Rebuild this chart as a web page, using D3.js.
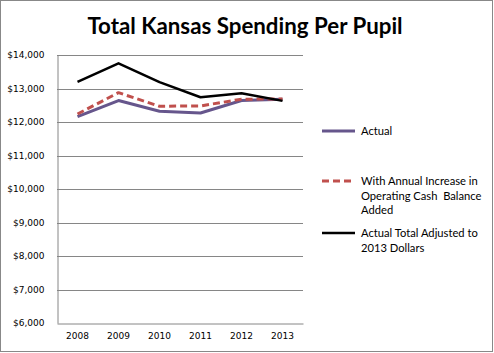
<!DOCTYPE html>
<html>
<head>
<meta charset="utf-8">
<script src="https://cdn.jsdelivr.net/npm/d3@7"></script>
<style>
  body { margin: 0; background: #fff; }
  svg { display: block; }
</style>
</head>
<body>
<svg id="chart" width="494" height="353"></svg>
<script>
'use strict';

var years = ["2008", "2009", "2010", "2011", "2012", "2013"];
var actual = [12160, 12640, 12320, 12270, 12640, 12680];
var withCash = [12240, 12875, 12470, 12480, 12680, 12690];
var adjusted = [13200, 13750, 13190, 12740, 12860, 12630];
var yTicks = [6000, 7000, 8000, 9000, 10000, 11000, 12000, 13000, 14000];

(function() {
var series = [
  {name: ["Actual"], values: actual, color: "#66568c", width: 3, dash: null, ly: 131},
  {name: ["With Annual Increase in", "Operating Cash  Balance", "Added"], values: withCash, color: "#c0504d", width: 3, dash: "7,4", ly: 181},
  {name: ["Actual Total Adjusted to", "2013 Dollars"], values: adjusted, color: "#000", width: 2.5, dash: null, ly: 233}
];

var svg = d3.select("#chart");

// outer border
svg.append("rect")
  .attr("x", 0.5).attr("y", 0.5)
  .attr("width", 492).attr("height", 351)
  .attr("fill", "#fff").attr("stroke", "#888");

svg.append("text")
  .attr("x", 245).attr("y", 34)
  .attr("text-anchor", "middle")
  .style("font-family", "Lato, 'Open Sans', sans-serif")
  .style("font-weight", "bold")
  .style("font-size", "22.3px")
  .text("Total Kansas Spending Per Pupil");

var pLeft = 57, pRight = 303, pTop = 55, pBottom = 323;

var x = d3.scaleBand().domain(years).range([pLeft, pRight]);
var y = d3.scaleLinear().domain([6000, 14000]).range([pBottom, pTop]);

// gridlines
svg.append("g").selectAll("line")
  .data(yTicks.slice(1))
  .enter().append("line")
  .attr("x1", pLeft).attr("x2", pRight)
  .attr("y1", function(d) { return Math.round(y(d)) + 0.5; })
  .attr("y2", function(d) { return Math.round(y(d)) + 0.5; })
  .attr("stroke", "#868686");

var yAxis = d3.axisLeft(y)
  .tickValues(yTicks)
  .tickSize(0)
  .tickPadding(13)
  .tickFormat(function(d) { return "$" + d3.format(",")(d); });

var gy = svg.append("g")
  .attr("transform", "translate(" + (pLeft + 0.5) + ",0)")
  .call(yAxis);
gy.select(".domain").attr("stroke", "#868686");
gy.selectAll("text")
  .style("font-family", "'DejaVu Sans', Verdana, sans-serif")
  .style("font-size", "9px")
  .attr("fill", "#000");

var xAxis = d3.axisBottom(x).tickSize(0).tickPadding(9);
var gx = svg.append("g")
  .attr("transform", "translate(0," + (pBottom + 0.5) + ")")
  .call(xAxis);
gx.select(".domain").attr("stroke", "#868686");
gx.selectAll("text")
  .style("font-family", "'DejaVu Sans', Verdana, sans-serif")
  .style("font-size", "9px")
  .attr("fill", "#000");

var line = d3.line()
  .x(function(d, i) { return x(years[i]) + x.bandwidth() / 2; })
  .y(function(d) { return y(d); });

series.forEach(function(s) {
  svg.append("path")
    .datum(s.values)
    .attr("d", line)
    .attr("fill", "none")
    .attr("stroke", s.color)
    .attr("stroke-width", s.width)
    .attr("stroke-dasharray", s.dash)
    .attr("stroke-linejoin", "round");

  // legend
  svg.append("line")
    .attr("x1", 322).attr("x2", 355)
    .attr("y1", s.ly).attr("y2", s.ly)
    .attr("stroke", s.color)
    .attr("stroke-width", s.width)
    .attr("stroke-dasharray", s.dash);
  var t = svg.append("text")
    .attr("x", 361).attr("y", s.ly + 4)
    .style("font-family", "Lato, 'Open Sans', sans-serif")
    .style("font-size", "11.2px")
    .style("white-space", "pre");
  s.name.forEach(function(n, i) {
    t.append("tspan").attr("x", 361).attr("dy", i ? 14.5 : 0).text(n);
  });
});
})();
</script>
</body>
</html>
